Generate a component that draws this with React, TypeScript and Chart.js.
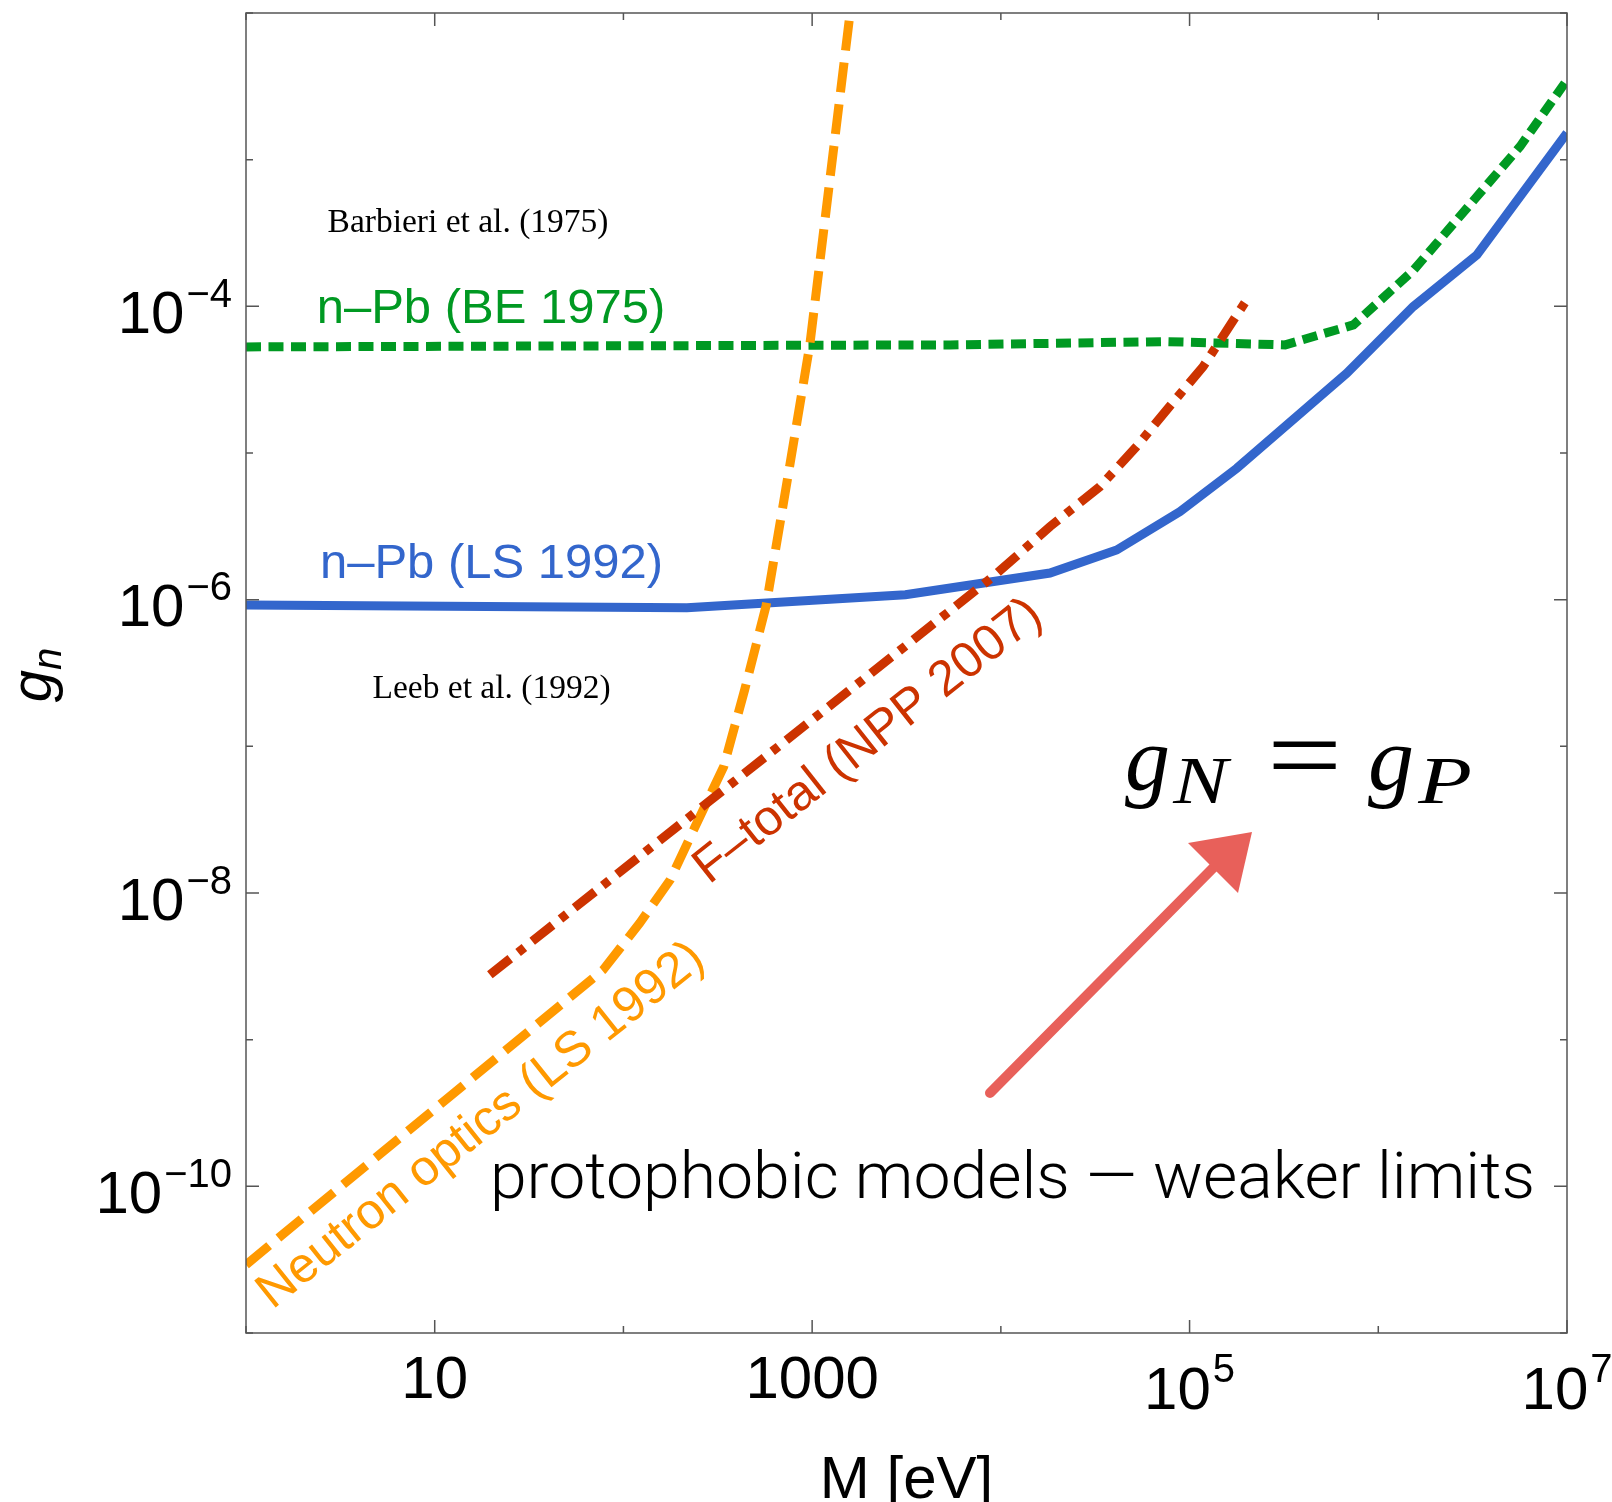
import React, { useEffect, useRef } from "react";
import { Chart, registerables } from "chart.js";

Chart.register(...registerables);

// ---------- data (M in eV, g_n) ----------
const massBE1975 = [1, 5380, 75700, 321000, 738000, 1540000, 3330000, 5640000, 1e7];
const gBE1975 = [5.29e-5, 5.46e-5, 5.75e-5, 5.46e-5, 7.47e-5, 1.77e-4, 5.6e-4, 1.23e-3, 3.49e-3];

const massLS1992 = [1, 217, 3120, 18200, 41100, 89000, 178000, 681000, 1530000, 3330000, 1e7];
const gLS1992 = [9.2e-7, 8.8e-7, 1.08e-6, 1.52e-6, 2.18e-6, 3.99e-6, 7.87e-6, 3.5e-5, 9.95e-5, 2.24e-4, 1.52e-3];

const massOptics = [1, 78, 122, 177, 240, 340, 439, 570, 745, 972, 1607];
const gOptics = [2.92e-11, 2.99e-9, 6.24e-9, 1.23e-8, 2.84e-8, 7.28e-8, 2.43e-7, 9.08e-7, 6.98e-6, 5.46e-5, 1.13e-2];

const massFtotal = [19.6, 9120, 18200, 33500, 52500, 75700, 118000, 201000];
const gFtotal = [2.77e-9, 1.44e-6, 3.15e-6, 5.9e-6, 1.11e-5, 1.97e-5, 3.88e-5, 1.11e-4];

const xTickValues = [1, 10, 100, 1e3, 1e4, 1e5, 1e6, 1e7];
const xTickLabels = [
  { v: 10, base: "10", exp: "" },
  { v: 1000, base: "1000", exp: "" },
  { v: 1e5, base: "10", exp: "5" },
  { v: 1e7, base: "10", exp: "7" },
];
const yTickValues = [1e-11, 1e-10, 1e-9, 1e-8, 1e-7, 1e-6, 1e-5, 1e-4, 1e-3, 1e-2];
const yTickLabels = [
  { v: 1e-4, base: "10", exp: "\u22124" },
  { v: 1e-6, base: "10", exp: "\u22126" },
  { v: 1e-8, base: "10", exp: "\u22128" },
  { v: 1e-10, base: "10", exp: "\u221210" },
];

const GREEN = "#009922";
const BLUE = "#3366CC";
const ORANGE = "#FF9900";
const RED = "#CC3300";
const SANS = '"Liberation Sans", Arial, Helvetica, sans-serif';
const SERIF = '"Liberation Serif", "Times New Roman", serif';

const toPts = (xs: number[], ys: number[]) => xs.map((x, i) => ({ x, y: ys[i] }));

function drawText(
  ctx: CanvasRenderingContext2D,
  s: string,
  x: number,
  y: number,
  font: string,
  color: string,
  align: CanvasTextAlign = "left",
  angleDeg = 0
) {
  ctx.save();
  ctx.translate(x, y);
  if (angleDeg) ctx.rotate((angleDeg * Math.PI) / 180);
  ctx.font = font;
  ctx.fillStyle = color;
  ctx.textAlign = align;
  ctx.textBaseline = "alphabetic";
  ctx.fillText(s, 0, 0);
  ctx.restore();
}

// draw text so that its ink spans [inkLeft, inkLeft+inkWidth] horizontally
function drawFitInk(
  ctx: CanvasRenderingContext2D,
  s: string,
  font: string,
  inkLeft: number,
  baseline: number,
  inkWidth: number,
  color = "#000"
) {
  ctx.save();
  ctx.font = font;
  ctx.textAlign = "left";
  ctx.textBaseline = "alphabetic";
  ctx.fillStyle = color;
  const m = ctx.measureText(s);
  const w = m.actualBoundingBoxLeft + m.actualBoundingBoxRight;
  const sx = w > 0 ? inkWidth / w : 1;
  ctx.translate(inkLeft, baseline);
  ctx.scale(sx, 1);
  ctx.fillText(s, m.actualBoundingBoxLeft, 0);
  ctx.restore();
}

function drawPow(
  ctx: CanvasRenderingContext2D,
  base: string,
  exp: string,
  x: number,
  baseY: number,
  supY: number,
  align: "left" | "right" | "center"
) {
  const mainFont = `60px ${SANS}`;
  const supFont = `40px ${SANS}`;
  ctx.save();
  ctx.font = mainFont;
  const wb = ctx.measureText(base).width;
  ctx.font = supFont;
  const we = exp ? ctx.measureText(exp).width : 0;
  const gap = exp ? 2 : 0;
  const total = wb + gap + we;
  const sx = align === "right" ? x - total : align === "center" ? x - total / 2 : x;
  ctx.fillStyle = "#000";
  ctx.textAlign = "left";
  ctx.textBaseline = "alphabetic";
  ctx.font = mainFont;
  ctx.fillText(base, sx, baseY);
  if (exp) {
    ctx.font = supFont;
    ctx.fillText(exp, sx + wb + gap, supY);
  }
  ctx.restore();
}

const decorPlugin = {
  id: "decor",
  beforeDraw(chart: any) {
    const ctx = chart.ctx as CanvasRenderingContext2D;
    ctx.save();
    ctx.fillStyle = "#fff";
    ctx.fillRect(0, 0, chart.width, chart.height);
    ctx.restore();
  },
  afterDraw(chart: any) {
    const ctx = chart.ctx as CanvasRenderingContext2D;
    const ca = chart.chartArea;
    const xs = chart.scales.x;
    const ys = chart.scales.y;

    // frame
    ctx.save();
    ctx.strokeStyle = "#555";
    ctx.lineWidth = 1.5;
    ctx.strokeRect(ca.left, ca.top, ca.right - ca.left, ca.bottom - ca.top);

    // ticks (inward, mirrored)
    const labeledX = xTickLabels.map((t) => t.v);
    const labeledY = yTickLabels.map((t) => t.v);
    ctx.beginPath();
    xTickValues.forEach((v) => {
      const px = xs.getPixelForValue(v);
      const len = labeledX.includes(v) ? 13 : 7;
      ctx.moveTo(px, ca.bottom);
      ctx.lineTo(px, ca.bottom - len);
      ctx.moveTo(px, ca.top);
      ctx.lineTo(px, ca.top + len);
    });
    yTickValues.forEach((v) => {
      const py = ys.getPixelForValue(v);
      const len = labeledY.includes(v) ? 13 : 7;
      ctx.moveTo(ca.left, py);
      ctx.lineTo(ca.left + len, py);
      ctx.moveTo(ca.right, py);
      ctx.lineTo(ca.right - len, py);
    });
    ctx.stroke();
    ctx.restore();

    // tick labels
    yTickLabels.forEach((t) => {
      const py = ys.getPixelForValue(t.v);
      drawPow(ctx, t.base, t.exp, ca.left - 14, py + 26.5, py + 0.5, "right");
    });
    xTickLabels.forEach((t) => {
      const px = xs.getPixelForValue(t.v);
      if (t.exp) drawPow(ctx, t.base, t.exp, px, ca.bottom + 76, ca.bottom + 49, "center");
      else drawPow(ctx, t.base, "", px, ca.bottom + 65, ca.bottom + 65, "center");
    });

    // axis titles
    drawText(ctx, "M [eV]", (ca.left + ca.right) / 2, 1498, `60px ${SANS}`, "#000", "center");
    ctx.save();
    ctx.translate(51, (ca.top + ca.bottom) / 2 + 2);
    ctx.rotate(-Math.PI / 2);
    ctx.fillStyle = "#000";
    ctx.textBaseline = "alphabetic";
    ctx.font = `italic 58px ${SANS}`;
    const wg = ctx.measureText("g").width;
    ctx.font = `italic 40px ${SANS}`;
    const wn = ctx.measureText("n").width;
    const u0 = -(wg + wn) / 2;
    ctx.font = `italic 58px ${SANS}`;
    ctx.fillText("g", u0, 0);
    ctx.font = `italic 40px ${SANS}`;
    ctx.fillText("n", u0 + wg, 10);
    ctx.restore();

    // annotations
    drawText(ctx, "Barbieri et al. (1975)", 468, 232, `33.5px ${SERIF}`, "#000", "center");
    drawText(ctx, "n\u2013Pb (BE 1975)", 491, 323, `49px ${SANS}`, GREEN, "center");
    drawText(ctx, "n\u2013Pb (LS 1992)", 491.5, 578, `49px ${SANS}`, BLUE, "center");
    drawText(ctx, "Leeb et al. (1992)", 491.5, 698, `33.5px ${SERIF}`, "#000", "center");
    drawText(ctx, "F\u2013total (NPP 2007)", 709, 885, `50px ${SANS}`, RED, "left", -38.3);
    drawText(ctx, "Neutron optics (LS 1992)", 272.5, 1310, `50px ${SANS}`, ORANGE, "left", -38.6);
    drawFitInk(ctx, "protophobic models \u2014 weaker limits", `300 65px Roboto, ${SANS}`, 494, 1198, 1038);

    // g_N = g_P
    drawFitInk(ctx, "g", `italic 92px ${SERIF}`, 1125, 790, 43);
    drawFitInk(ctx, "N", `italic 68px ${SERIF}`, 1172, 803, 60);
    drawFitInk(ctx, "=", `110px ${SERIF}`, 1273, 792, 63);
    drawFitInk(ctx, "g", `italic 92px ${SERIF}`, 1368, 790, 44);
    drawFitInk(ctx, "P", `italic 68px ${SERIF}`, 1417, 803, 53);

    // hand-drawn arrow
    ctx.save();
    ctx.strokeStyle = "#E8605A";
    ctx.fillStyle = "#E8605A";
    ctx.lineWidth = 10;
    ctx.lineCap = "round";
    ctx.beginPath();
    ctx.moveTo(990, 1093);
    ctx.lineTo(1215, 866);
    ctx.stroke();
    ctx.beginPath();
    ctx.moveTo(1252, 832);
    ctx.lineTo(1188, 843);
    ctx.lineTo(1238, 893);
    ctx.closePath();
    ctx.fill();
    ctx.restore();
  },
};

export default function App() {
  const canvasRef = useRef<HTMLCanvasElement | null>(null);

  useEffect(() => {
    if (!canvasRef.current) return;
    const chart = new Chart(canvasRef.current, {
      type: "scatter",
      data: {
        datasets: [
          {
            label: "F-total (NPP 2007)",
            data: toPts(massFtotal, gFtotal),
            showLine: true,
            borderColor: RED,
            borderWidth: 9,
            borderDash: [26, 10, 8, 10],
            borderCapStyle: "butt",
            pointRadius: 0,
            order: 0,
          },
          {
            label: "Neutron optics (LS 1992)",
            data: toPts(massOptics, gOptics),
            showLine: true,
            borderColor: ORANGE,
            borderWidth: 9,
            borderDash: [30, 12],
            borderCapStyle: "butt",
            pointRadius: 0,
            order: 1,
          },
          {
            label: "n-Pb (BE 1975)",
            data: toPts(massBE1975, gBE1975),
            showLine: true,
            borderColor: GREEN,
            borderWidth: 9,
            borderDash: [15, 7.5],
            borderCapStyle: "butt",
            pointRadius: 0,
            order: 2,
          },
          {
            label: "n-Pb (LS 1992)",
            data: toPts(massLS1992, gLS1992),
            showLine: true,
            borderColor: BLUE,
            borderWidth: 9,
            pointRadius: 0,
            order: 3,
          },
        ],
      } as any,
      options: {
        animation: false,
        responsive: false,
        devicePixelRatio: 1,
        events: [],
        layout: { padding: { left: 246, right: 45, top: 13, bottom: 169 } },
        plugins: { legend: { display: false }, tooltip: { enabled: false } },
        scales: {
          x: { type: "logarithmic", min: 1, max: 1e7, display: false },
          y: { type: "logarithmic", min: 1e-11, max: 1e-2, display: false },
        },
      } as any,
      plugins: [decorPlugin as any],
    });
    return () => chart.destroy();
  }, []);

  return (
    <div style={{ position: "absolute", left: 0, top: 0, width: 1612, height: 1502, background: "#fff" }}>
      <canvas ref={canvasRef} width={1612} height={1502} style={{ display: "block" }} />
    </div>
  );
}
